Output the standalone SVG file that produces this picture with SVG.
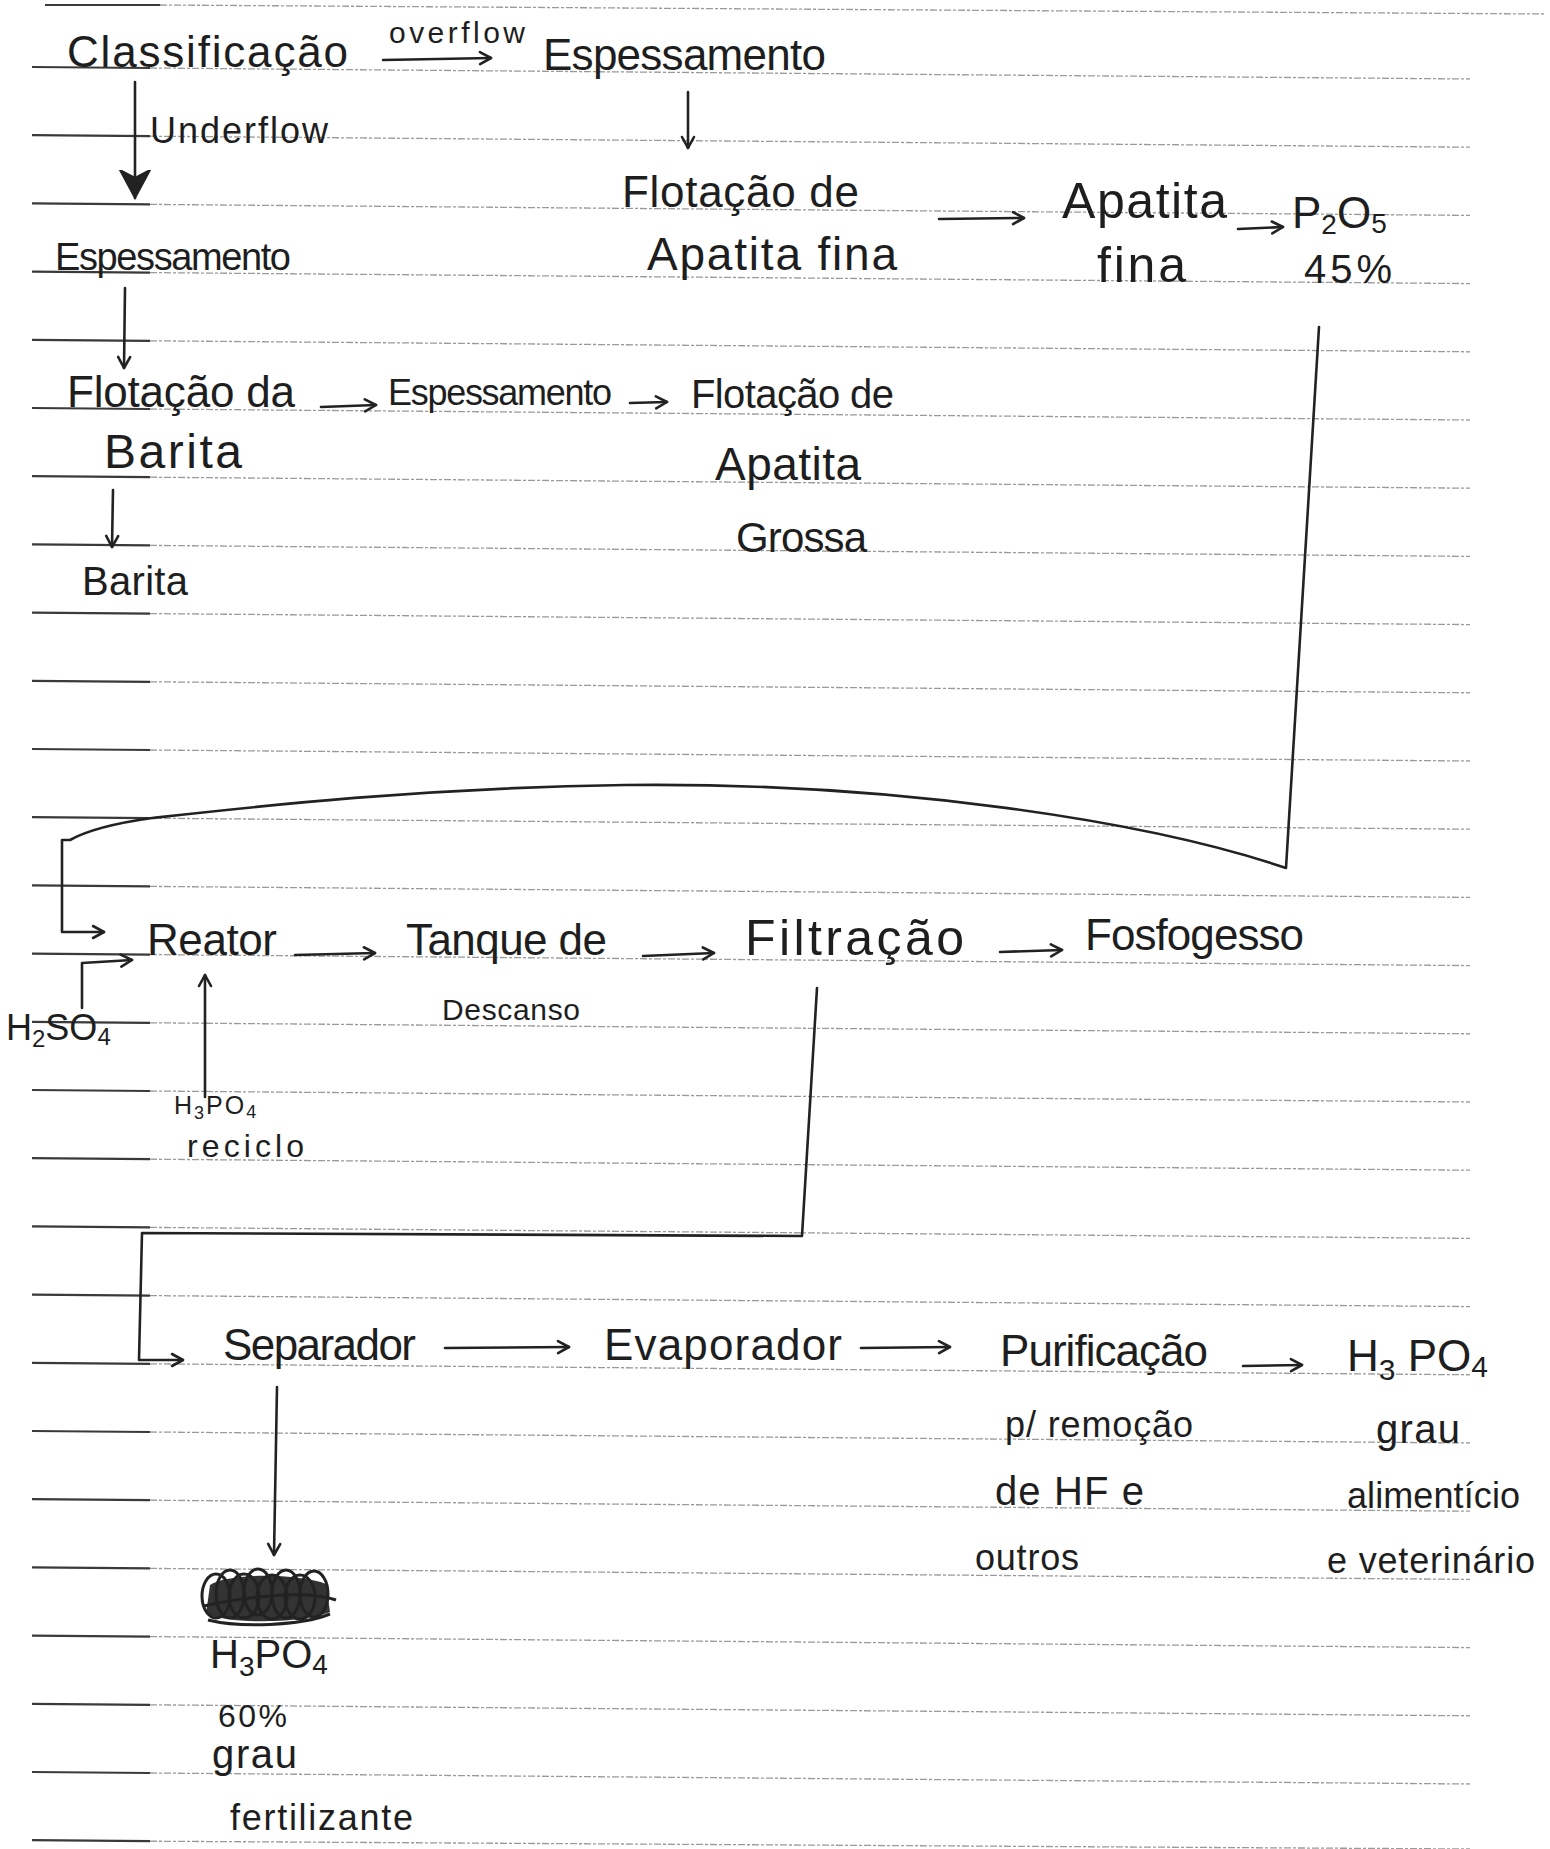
<svg xmlns="http://www.w3.org/2000/svg" width="1550" height="1849" viewBox="0 0 1550 1849">
<style>
.bg{fill:#ffffff}
.rl{stroke:#3a3a3a;stroke-width:2.2;fill:none}
.ll{stroke:#9a9a9a;stroke-width:1.3;stroke-dasharray:7 2 3 2;fill:none}
.t{font-family:"Liberation Sans",Arial,sans-serif;fill:#1e1e1e;font-size:44px}
.m{font-size:36px}
.s{font-size:30px}
.xs{font-size:27px}
.c{stroke:#222;stroke-width:2.6;fill:none;stroke-linecap:round;stroke-linejoin:round}
.sc{fill:none;stroke:#222;stroke-width:3}
</style>
<defs>
<marker id="ah" markerWidth="16" markerHeight="16" refX="13" refY="8" orient="auto" markerUnits="userSpaceOnUse">
<path d="M2,2 L13,8 L2,14" fill="none" stroke="#222" stroke-width="2.6" stroke-linecap="round" stroke-linejoin="round"/>
</marker>
<marker id="ahf" markerWidth="32" markerHeight="34" refX="28" refY="16" orient="auto" markerUnits="userSpaceOnUse">
<path d="M0,1 L28,16 L0,31 L8,16 Z" fill="#222" stroke="#222" stroke-width="2"/>
</marker>
</defs>
<rect class="bg" x="0" y="0" width="1550" height="1849"/>
<g id="paper">
<path class="rl" d="M45,5 L160,5"/>
<path class="ll" d="M160,5 L1545,14"/>
<path class="rl" d="M32,67 L150,68 M32,135.2 L150,136.2 M32,203.4 L150,204.4 M32,271.6 L150,272.6 M32,339.8 L150,340.8 M32,408 L150,409 M32,476.2 L150,477.2 M32,544.4 L150,545.4 M32,612.6 L150,613.6 M32,680.8 L150,681.8 M32,749 L150,750 M32,817.2 L150,818.2 M32,885.4 L150,886.4 M32,953.6 L150,954.6 M32,1021.8 L150,1022.8 M32,1090 L150,1091 M32,1158.2 L150,1159.2 M32,1226.4 L150,1227.4 M32,1294.6 L150,1295.6 M32,1362.8 L150,1363.8 M32,1431 L150,1432 M32,1499.2 L150,1500.2 M32,1567.4 L150,1568.4 M32,1635.6 L150,1636.6 M32,1703.8 L150,1704.8 M32,1772 L150,1773 M32,1840.2 L150,1841.2"/>
<path class="ll" d="M150,68 L1470,79 M150,136.2 L1470,147.2 M150,204.4 L1470,215.4 M150,272.6 L1470,283.6 M150,340.8 L1470,351.8 M150,409 L1470,420 M150,477.2 L1470,488.2 M150,545.4 L1470,556.4 M150,613.6 L1470,624.6 M150,681.8 L1470,692.8 M150,750 L1470,761 M150,818.2 L1470,829.2 M150,886.4 L1470,897.4 M150,954.6 L1470,965.6 M150,1022.8 L1470,1033.8 M150,1091 L1470,1102 M150,1159.2 L1470,1170.2 M150,1227.4 L1470,1238.4 M150,1295.6 L1470,1306.6 M150,1363.8 L1470,1374.8 M150,1432 L1470,1443 M150,1500.2 L1470,1511.2 M150,1568.4 L1470,1579.4 M150,1636.6 L1470,1647.6 M150,1704.8 L1470,1715.8 M150,1773 L1470,1784 M150,1841.2 L1470,1849"/>
</g>
<g id="connectors">
<path class="c" d="M383,60 L491,58" marker-end="url(#ah)"/>
<path class="c" d="M135,82 L135,198" marker-end="url(#ahf)"/>
<path class="c" d="M688,92 L688,148" marker-end="url(#ah)"/>
<path class="c" d="M939,219 L1024,218" marker-end="url(#ah)"/>
<path class="c" d="M1238,229 L1283,227" marker-end="url(#ah)"/>
<path class="c" d="M125,288 L124,368" marker-end="url(#ah)"/>
<path class="c" d="M321,407 L376,405" marker-end="url(#ah)"/>
<path class="c" d="M630,403 L667,402" marker-end="url(#ah)"/>
<path class="c" d="M113,490 L112,547" marker-end="url(#ah)"/>
<path class="c" d="M1319,327 L1286,868 C1150,822 900,782 625,785 C420,788 260,806 152,818 Q95,826 70,840 L62,840 L62,932 L104,932" marker-end="url(#ah)"/>
<path class="c" d="M82,1008 L82,963 L132,960" marker-end="url(#ah)"/>
<path class="c" d="M205,1097 L205,975" marker-end="url(#ah)"/>
<path class="c" d="M295,955 L375,953" marker-end="url(#ah)"/>
<path class="c" d="M643,956 L714,953" marker-end="url(#ah)"/>
<path class="c" d="M1000,952 L1062,950" marker-end="url(#ah)"/>
<path class="c" d="M817,988 L802,1236 L142,1233 L139,1360 L183,1360" marker-end="url(#ah)"/>
<path class="c" d="M445,1348 L569,1347" marker-end="url(#ah)"/>
<path class="c" d="M861,1348 L950,1347" marker-end="url(#ah)"/>
<path class="c" d="M1243,1366 L1302,1365" marker-end="url(#ah)"/>
<path class="c" d="M277,1387 L274,1555" marker-end="url(#ah)"/>
</g>
<g id="n-classificacao"><text class="t" x="67" y="67" textLength="281">Classificação</text></g>
<g id="l-overflow"><text class="t s" x="389" y="43" textLength="136">overflow</text></g>
<g id="l-underflow"><text class="t" style="font-size:36px" x="150" y="143" textLength="178">Underflow</text></g>
<g id="n-espessamento1"><text class="t" x="543" y="70" textLength="283">Espessamento</text></g>
<g id="n-flotacao-fina"><text class="t" x="622" y="207" textLength="237">Flotação de</text><text class="t" style="font-size:46px" x="647" y="270" textLength="250">Apatita fina</text></g>
<g id="n-apatita-fina"><text class="t" style="font-size:50px" x="1062" y="218" textLength="165">Apatita</text><text class="t" style="font-size:50px" x="1097" y="282" textLength="89">fina</text></g>
<g id="n-p2o5"><text class="t" x="1292" y="228">P<tspan font-size="28" dy="6">2</tspan><tspan dy="-6">O</tspan><tspan font-size="28" dy="5">5</tspan></text><text class="t" style="font-size:40px" x="1304" y="283" textLength="88">45%</text></g>
<g id="n-espessamento2"><text class="t" style="font-size:38px" x="55" y="270" textLength="236">Espessamento</text></g>
<g id="n-flotacao-barita"><text class="t" x="67" y="407" textLength="228">Flotação da</text><text class="t" style="font-size:48px" x="104" y="468" textLength="138">Barita</text></g>
<g id="n-espessamento3"><text class="t m" x="388" y="405" textLength="224">Espessamento</text></g>
<g id="n-flotacao-grossa"><text class="t" style="font-size:40px" x="691" y="408" textLength="203">Flotação de</text><text class="t" style="font-size:46px" x="715" y="480" textLength="146">Apatita</text><text class="t" style="font-size:42px" x="736" y="552" textLength="131">Grossa</text></g>
<g id="n-barita"><text class="t" style="font-size:40px" x="82" y="595" textLength="106">Barita</text></g>
<g id="n-reator"><text class="t" x="147" y="955" textLength="130">Reator</text></g>
<g id="n-h2so4"><text class="t m" x="6" y="1040">H<tspan font-size="24" dy="7">2</tspan><tspan dy="-7">SO</tspan><tspan font-size="24" dy="5">4</tspan></text></g>
<g id="n-h3po4-reciclo"><text class="t" style="font-size:25px" x="174" y="1114" letter-spacing="2">H<tspan font-size="18" dy="5">3</tspan><tspan dy="-5">PO</tspan><tspan font-size="18" dy="4">4</tspan></text><text class="t" style="font-size:32px" x="187" y="1157" textLength="117">reciclo</text></g>
<g id="n-tanque"><text class="t" x="406" y="955" textLength="201">Tanque de</text><text class="t s" x="442" y="1020" textLength="138">Descanso</text></g>
<g id="n-filtracao"><text class="t" style="font-size:50px" x="745" y="955" textLength="219">Filtração</text></g>
<g id="n-fosfogesso"><text class="t" x="1085" y="950" textLength="219">Fosfogesso</text></g>
<g id="n-separador"><text class="t" x="223" y="1360" textLength="193">Separador</text></g>
<g id="n-evaporador"><text class="t" x="604" y="1360" textLength="238">Evaporador</text></g>
<g id="n-purificacao"><text class="t" x="1000" y="1366" textLength="208">Purificação</text><text class="t m" x="1005" y="1437" textLength="188">p/ remoção</text><text class="t" style="font-size:40px" x="995" y="1505" textLength="149">de HF e</text><text class="t m" x="975" y="1570" textLength="104">outros</text></g>
<g id="n-h3po4-alimenticio"><text class="t" x="1347" y="1371">H<tspan font-size="30" dy="9">3</tspan><tspan dy="-9"> PO</tspan><tspan font-size="30" dy="6">4</tspan></text><text class="t" style="font-size:40px" x="1376" y="1443" textLength="84">grau</text><text class="t m" x="1347" y="1508" textLength="173">alimentício</text><text class="t m" x="1327" y="1573" textLength="208">e veterinário</text></g>
<g id="scribble">
<path d="M210,1585 C230,1572 300,1574 326,1584 L330,1612 C300,1624 230,1624 206,1614 Z" fill="#333"/>
<ellipse class="sc" cx="216" cy="1596" rx="14" ry="22"/>
<ellipse class="sc" cx="230" cy="1594" rx="14" ry="24"/>
<ellipse class="sc" cx="244" cy="1596" rx="15" ry="22"/>
<ellipse class="sc" cx="258" cy="1592" rx="14" ry="23"/>
<ellipse class="sc" cx="272" cy="1597" rx="15" ry="22"/>
<ellipse class="sc" cx="286" cy="1594" rx="14" ry="24"/>
<ellipse class="sc" cx="300" cy="1597" rx="15" ry="22"/>
<ellipse class="sc" cx="314" cy="1594" rx="14" ry="23"/>
<path class="sc" d="M204,1606 C230,1600 300,1588 336,1600 M208,1620 C240,1628 300,1626 330,1614"/>
</g>
<g id="n-h3po4-fertilizante"><text class="t" x="210" y="1668" style="font-size:40px">H<tspan font-size="28" dy="8">3</tspan><tspan dy="-8">PO</tspan><tspan font-size="28" dy="6">4</tspan></text><text class="t" style="font-size:32px" x="218" y="1727" textLength="69">60%</text><text class="t" style="font-size:40px" x="212" y="1768" textLength="85">grau</text><text class="t m" x="230" y="1830" textLength="183">fertilizante</text></g>
</svg>
